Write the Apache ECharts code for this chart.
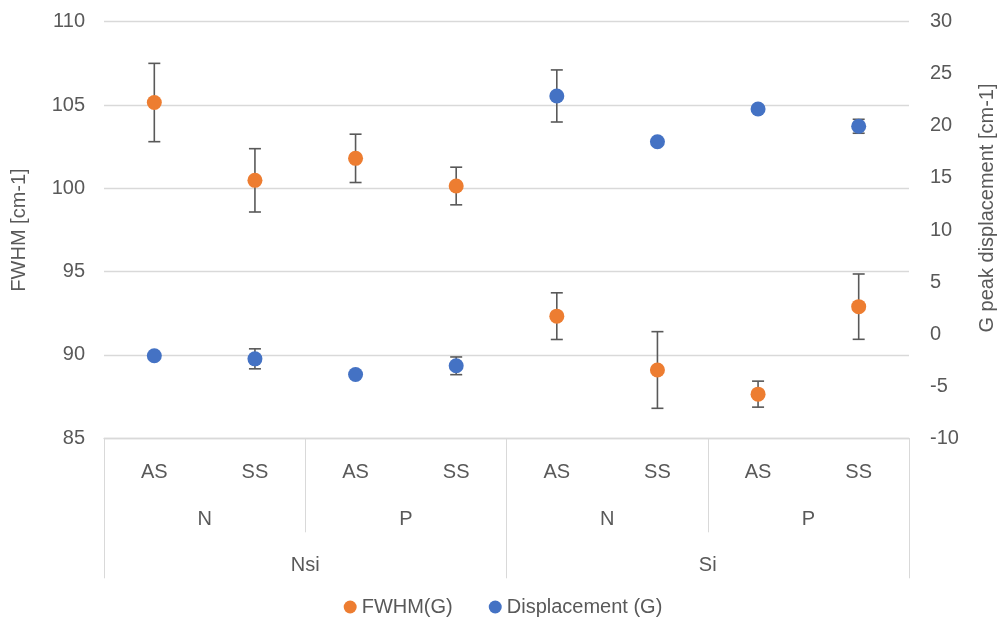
<!DOCTYPE html>
<html>
<head>
<meta charset="utf-8">
<script src="https://cdn.jsdelivr.net/npm/echarts@6/dist/echarts.min.js"></script>
<style>html,body{margin:0;padding:0;background:#fff;}#chart{width:1006px;height:630px;}</style>
</head>
<body>
<div id="chart"></div>
<script>
var categories = ['AS','SS','AS','SS','AS','SS','AS','SS'];
var level2 = ['N','P','N','P'];
var level3 = ['Nsi','Si'];
var fwhm = [105.15, 100.48, 101.8, 100.14, 92.33, 89.1, 87.65, 92.9];
var fwhmErr = [2.35, 1.9, 1.45, 1.13, 1.4, 2.3, 0.78, 1.96];
var disp = [-2.08, -2.37, -3.88, -3.04, 22.87, 18.48, 21.62, 19.96];
var dispErr = [0.2, 0.96, 0.2, 0.85, 2.5, 0.2, 0.2, 0.67];
var leftTicks = {min: 85, max: 110, interval: 5};
var rightTicks = {min: -10, max: 30, interval: 5};

var FONT = 'Liberation Sans';
var TXT = '#595959';
var GRIDC = '#d9d9d9';

function errData(vals, errs){
  return vals.map(function(v,i){ return [i, v - errs[i], v + errs[i]]; });
}
function errRender(params, api){
  var x = api.value(0);
  var lo = api.coord([x, api.value(1)]);
  var hi = api.coord([x, api.value(2)]);
  var h = 6;
  var st = {stroke: '#595959', lineWidth: 1.6};
  return {type:'group', children:[
    {type:'line', shape:{x1:hi[0], y1:hi[1], x2:lo[0], y2:lo[1]}, style:st},
    {type:'line', shape:{x1:hi[0]-h, y1:hi[1], x2:hi[0]+h, y2:hi[1]}, style:st},
    {type:'line', shape:{x1:lo[0]-h, y1:lo[1], x2:lo[0]+h, y2:lo[1]}, style:st}
  ]};
}

var chart = echarts.init(document.getElementById('chart'), null, {renderer:'canvas'});
var lbl = {fontFamily: FONT, fontSize: 20, color: TXT};
chart.setOption({
  animation: false,
  backgroundColor: '#fff',
  textStyle: {fontFamily: FONT},
  grid: {left: 104, right: 97, top: 21.7, bottom: 191.7, containLabel: false},
  legend: {
    bottom: 8, left: 'center', icon: 'circle', itemWidth: 13, itemHeight: 13, itemGap: 36,
    textStyle: {fontFamily: FONT, fontSize: 20, color: TXT},
    data: ['FWHM(G)', 'Displacement (G)']
  },
  xAxis: [
    {type:'category', data: categories, position:'bottom',
     axisLine:{show:true, onZero:false, lineStyle:{color:GRIDC, width:1.3}}, axisTick:{show:false},
     axisLabel: Object.assign({margin: 24, interval: 0}, lbl), splitLine:{show:false}},
    {type:'category', data: level2, position:'bottom',
     axisLine:{show:false, onZero:false}, axisTick:{show:true, length:94, lineStyle:{color:GRIDC, width:1}},
     axisLabel: Object.assign({margin: 71, interval: 0}, lbl), splitLine:{show:false}},
    {type:'category', data: level3, position:'bottom',
     axisLine:{show:false, onZero:false}, axisTick:{show:true, length:140, lineStyle:{color:GRIDC, width:1}},
     axisLabel: Object.assign({margin: 117, interval: 0}, lbl), splitLine:{show:false}}
  ],
  yAxis: [
    {type:'value', min: leftTicks.min, max: leftTicks.max, interval: leftTicks.interval, position:'left',
     name: 'FWHM [cm-1]', nameLocation:'middle', nameGap: 75, nameRotate: 90,
     nameTextStyle: {fontFamily: FONT, fontSize: 20, color: TXT},
     axisLine:{show:false}, axisTick:{show:false},
     axisLabel: Object.assign({margin: 19}, lbl),
     splitLine:{show:true, lineStyle:{color:GRIDC, width:1.3}}},
    {type:'value', min: rightTicks.min, max: rightTicks.max, interval: rightTicks.interval, position:'right',
     name: 'G peak displacement [cm-1]', nameLocation:'middle', nameGap: 68, nameRotate: 90,
     nameTextStyle: {fontFamily: FONT, fontSize: 20, color: TXT, padding:[0,0,0,44]},
     axisLine:{show:false}, axisTick:{show:false},
     axisLabel: Object.assign({margin: 21}, lbl),
     splitLine:{show:false}}
  ],
  series: [
    {type:'custom', name:'fwhmErr', xAxisIndex:0, yAxisIndex:0, renderItem: errRender,
     data: errData(fwhm, fwhmErr), encode:{x:0, y:[1,2]}, z:1, silent:true},
    {type:'custom', name:'dispErr', xAxisIndex:0, yAxisIndex:1, renderItem: errRender,
     data: errData(disp, dispErr), encode:{x:0, y:[1,2]}, z:1, silent:true},
    {type:'scatter', name:'FWHM(G)', xAxisIndex:0, yAxisIndex:0, data: fwhm,
     symbol:'circle', symbolSize:15, itemStyle:{color:'#ED7D31', opacity:1}, z:3},
    {type:'scatter', name:'Displacement (G)', xAxisIndex:0, yAxisIndex:1, data: disp,
     symbol:'circle', symbolSize:15, itemStyle:{color:'#4472C4', opacity:1}, z:3}
  ]
});
</script>
</body>
</html>
